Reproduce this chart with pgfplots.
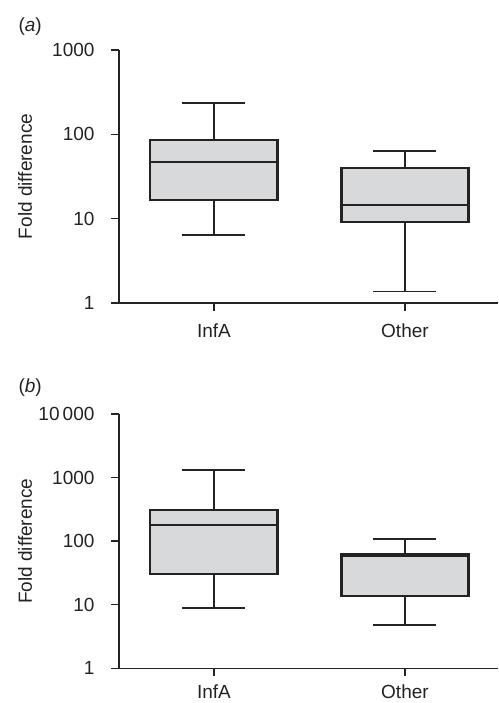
\documentclass[border=0pt]{standalone}
\usepackage{fontspec}
\setmainfont{Liberation Sans}
\usepackage{pgfplots}
\pgfplotsset{compat=1.18}
\definecolor{boxfill}{RGB}{216,217,219}
\definecolor{ink}{RGB}{35,35,35}
\newcommand{\lbl}{\fontsize{19bp}{22bp}\selectfont}
\pgfplotsset{
  every axis/.append style={
    scale only axis, width=379bp,
    xmin=0.503, xmax=2.487,
    axis lines=left,
    axis line style={ink, line width=1.3bp, -},
    xtick={1,2}, xticklabels={InfA,Other},
    tick style={ink, line width=1.3bp},
    tick align=outside, major tick length=8bp,
    minor tick style={draw=none},
    /pgf/number format/assume math mode=true,
    every tick label/.append style={font=\lbl, text=ink},
    ylabel style={font=\lbl, text=ink},
    yticklabel style={xshift=-10bp},
    clip=false,
  },
  boxs/.style={fill=boxfill, draw=ink, line width=2.1bp},
  whisk/.style={draw=ink, line width=1.7bp},
}
\begin{document}
\lbl
\begin{tikzpicture}
\useasboundingbox (0,0) rectangle (499bp,703bp);
\node[anchor=west, text=ink, font=\lbl] at (12bp,676bp) {(\textit{a})};
\node[anchor=west, text=ink, font=\lbl] at (12bp,315bp) {(\textit{b})};
\begin{axis}[at={(119bp,400bp)}, anchor=south west, height=253bp,
  ymode=log, xticklabel style={yshift=-6bp},
  ymin=1, ymax=1000, ytick={1,10,100,1000}, yticklabels={1,10,100,1000},
  ylabel={Fold difference},
  ylabel style={at={(axis description cs:-0.248,0.5)}, anchor=center}]
% InfA: whiskers 6.4 / 237, quartiles 16.7 / 85, median 46.9
\addplot[whisk] coordinates {(1,85) (1,237)};
\addplot[whisk] coordinates {(0.835,237) (1.165,237)};
\addplot[whisk] coordinates {(1,16.7) (1,6.4)};
\addplot[whisk] coordinates {(0.835,6.4) (1.165,6.4)};
\addplot[boxs] coordinates {(0.6675,16.7) (1.3325,16.7) (1.3325,85) (0.6675,85)} -- cycle;
\addplot[whisk] coordinates {(0.6675,46.9) (1.3325,46.9)};
% Other: whiskers 1.37 / 64, quartiles 9.2 / 39.5, median 14.6
\addplot[whisk] coordinates {(2,39.5) (2,64)};
\addplot[whisk] coordinates {(1.835,64) (2.165,64)};
\addplot[whisk] coordinates {(2,9.2) (2,1.37)};
\addplot[whisk] coordinates {(1.835,1.37) (2.165,1.37)};
\addplot[boxs] coordinates {(1.6675,9.2) (2.3325,9.2) (2.3325,39.5) (1.6675,39.5)} -- cycle;
\addplot[whisk] coordinates {(1.6675,14.6) (2.3325,14.6)};
\end{axis}
\begin{axis}[at={(119bp,34.7bp)}, anchor=south west, height=254.3bp,
  ymode=log, xticklabel style={yshift=-2bp},
  ymin=1, ymax=10000, ytick={1,10,100,1000,10000}, yticklabels={1,10,100,1000,10\,000},
  ylabel={Fold difference},
  ylabel style={at={(axis description cs:-0.248,0.5)}, anchor=center}]
% InfA: whiskers 8.8 / 1303, quartiles 30 / 310, median 178
\addplot[whisk] coordinates {(1,310) (1,1303)};
\addplot[whisk] coordinates {(0.835,1303) (1.165,1303)};
\addplot[whisk] coordinates {(1,30) (1,8.8)};
\addplot[whisk] coordinates {(0.835,8.8) (1.165,8.8)};
\addplot[boxs] coordinates {(0.6675,30) (1.3325,30) (1.3325,310) (0.6675,310)} -- cycle;
\addplot[whisk] coordinates {(0.6675,178) (1.3325,178)};
% Other: whiskers 4.76 / 109, quartiles 13.7 / 63.6, median 57.8
\addplot[whisk] coordinates {(2,63.6) (2,109)};
\addplot[whisk] coordinates {(1.835,109) (2.165,109)};
\addplot[whisk] coordinates {(2,13.7) (2,4.76)};
\addplot[whisk] coordinates {(1.835,4.76) (2.165,4.76)};
\addplot[boxs] coordinates {(1.6675,13.7) (2.3325,13.7) (2.3325,63.6) (1.6675,63.6)} -- cycle;
\addplot[whisk] coordinates {(1.6675,57.8) (2.3325,57.8)};
\end{axis}
\end{tikzpicture}
\end{document}
